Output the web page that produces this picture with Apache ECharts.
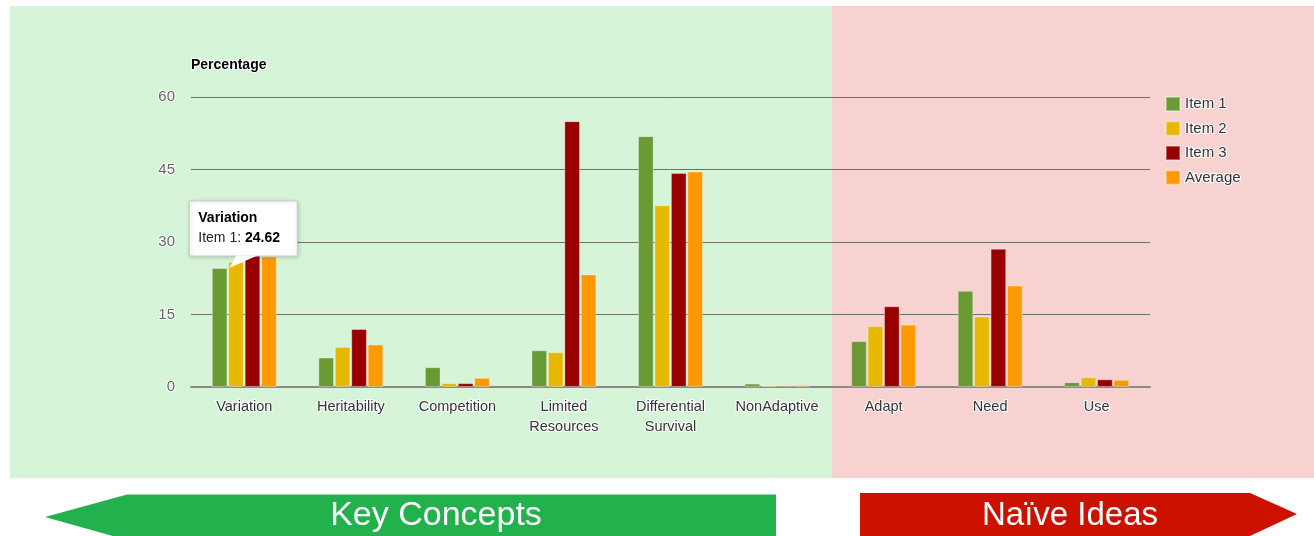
<!DOCTYPE html>
<html>
<head>
<meta charset="utf-8">
<script src="https://cdn.jsdelivr.net/npm/echarts@6/dist/echarts.min.js"></script>
<style>
  html, body { margin: 0; padding: 0; background: #ffffff; }
  #chart { width: 1314px; height: 536px; }
</style>
</head>
<body>
<div id="chart"></div>
<script>
// Categories and per-item percentages
const categories = ['Variation', 'Heritability', 'Competition', 'Limited\nResources',
  'Differential\nSurvival', 'NonAdaptive', 'Adapt', 'Need', 'Use'];
const item1   = [24.62, 6.1, 4.1, 7.6, 51.9, 0.7, 9.5, 19.9, 1.0];
const item2   = [25.9,  8.3, 0.8, 7.2, 37.6, 0.3, 12.6, 14.6, 2.0];
const item3   = [30.5, 12.0, 0.8, 55.0, 44.3, 0.3, 16.7, 28.6, 1.6];
const average = [27.0,  8.8, 1.9, 23.3, 44.6, 0.4, 12.9, 21.0, 1.5];
const seriesNames = ['Item 1', 'Item 2', 'Item 3', 'Average'];
const yTicks = [0, 15, 30, 45, 60];

const colors = ['#6a9a34', '#e6b800', '#990000', '#ff9900'];
const halo = { textBorderColor: '#ffffff', textBorderWidth: 2 };
const baseFont = 'Arial, "Liberation Sans", sans-serif';

const chart = echarts.init(document.getElementById('chart'), null, { renderer: 'canvas' });

function barSeries(name, data, color) {
  return {
    name: name,
    type: 'bar',
    data: data,
    barGap: '5%',
    barCategoryGap: '39%',
    itemStyle: { color: color, borderColor: 'rgba(255,255,255,0.35)', borderWidth: 1 },
    emphasis: { disabled: true },
    animation: false
  };
}

const option = {
  animation: false,
  color: colors,
  title: {
    text: 'Percentage',
    left: 191,
    top: 58,
    padding: 0,
    textStyle: { fontFamily: baseFont, fontSize: 14, fontWeight: 'bold', color: '#000', ...halo }
  },
  legend: {
    orient: 'vertical',
    left: 1165,
    top: 95.5,
    padding: 0,
    icon: 'rect',
    itemWidth: 14,
    itemHeight: 14,
    itemGap: 7.5,
    data: seriesNames,
    textStyle: { fontFamily: baseFont, fontSize: 15, color: '#333', ...halo }
  },
  grid: { left: 191, right: 164, top: 97, bottom: 149, containLabel: false, outerBoundsMode: 'none' },
  xAxis: {
    type: 'category',
    data: categories,
    axisTick: { show: false },
    axisLine: { lineStyle: { color: '#8a8a8a', width: 2 } },
    axisLabel: {
      interval: 0,
      margin: 10,
      lineHeight: 20,
      fontFamily: baseFont,
      fontSize: 14.5,
      color: '#333',
      ...halo
    }
  },
  yAxis: {
    type: 'value',
    min: yTicks[0],
    max: yTicks[yTicks.length - 1],
    interval: 15,
    axisLine: { show: false },
    axisTick: { show: false },
    axisLabel: {
      margin: 16,
      fontFamily: baseFont,
      fontSize: 15,
      color: '#666',
      ...halo
    },
    splitLine: { lineStyle: { color: '#6e6e6e', width: 1 } }
  },
  series: [
    barSeries(seriesNames[0], item1, colors[0]),
    barSeries(seriesNames[1], item2, colors[1]),
    barSeries(seriesNames[2], item3, colors[2]),
    barSeries(seriesNames[3], average, colors[3])
  ]
};

chart.setOption(option);

// Background panels and the concept arrows underneath
const bgGraphics = [
  { type: 'rect', z: -10, silent: true, shape: { x: 10, y: 6, width: 822, height: 472 }, style: { fill: '#d6f5d8' } },
  { type: 'rect', z: -10, silent: true, shape: { x: 832, y: 6, width: 482, height: 472 }, style: { fill: '#f8d1d1' } },
  { type: 'polygon', z: 1, silent: true,
    shape: { points: [[776, 494.5], [127, 494.5], [45, 517], [127, 540], [776, 540]] },
    style: { fill: '#22b14c' } },
  { type: 'polygon', z: 1, silent: true,
    shape: { points: [[860, 493], [1250, 493], [1297, 514], [1250, 536], [860, 536]] },
    style: { fill: '#cc1100' } },
  { type: 'text', z: 2, silent: true, x: 436, y: 516,
    style: { text: 'Key Concepts', fill: '#fff', align: 'center', verticalAlign: 'middle',
      font: '34px ' + baseFont } },
  { type: 'text', z: 2, silent: true, x: 1070, y: 516,
    style: { text: 'Naïve Ideas', fill: '#fff', align: 'center', verticalAlign: 'middle',
      font: '33px ' + baseFont } }
];

// Callout box for the first bar of the first category
const anchor = chart.convertToPixel({ gridIndex: 0 }, [0, item1[0]]);
const tipX = anchor[0] - 16;
const tipY = anchor[1];
const boxW = 108, boxH = 55;
const boxX = tipX - 39, boxY = tipY - 67;
const tipGraphics = [
  { type: 'rect', z: 50, silent: true,
    shape: { x: boxX, y: boxY, width: boxW, height: boxH },
    style: { fill: '#ffffff', stroke: '#cccccc', lineWidth: 1,
      shadowColor: 'rgba(0,0,0,0.18)', shadowBlur: 4, shadowOffsetX: 1, shadowOffsetY: 1 } },
  { type: 'polygon', z: 51, silent: true,
    shape: { points: [[tipX + 8, boxY + boxH - 0.5], [tipX + 29, boxY + boxH - 0.5], [tipX + 1, tipY]] },
    style: { fill: '#ffffff' } },
  { type: 'text', z: 52, silent: true, x: boxX + 9, y: boxY + 17,
    style: { text: categories[0], fill: '#000', verticalAlign: 'middle', font: 'bold 14px ' + baseFont } },
  { type: 'text', z: 52, silent: true, x: boxX + 9, y: boxY + 37,
    style: {
      text: '{n|' + seriesNames[0] + ': }{v|' + item1[0].toFixed(2) + '}',
      verticalAlign: 'middle',
      rich: {
        n: { fill: '#222', font: '14px ' + baseFont },
        v: { fill: '#000', font: 'bold 14px ' + baseFont }
      }
    } }
];

chart.setOption({ graphic: bgGraphics.concat(tipGraphics) });
</script>
</body>
</html>
